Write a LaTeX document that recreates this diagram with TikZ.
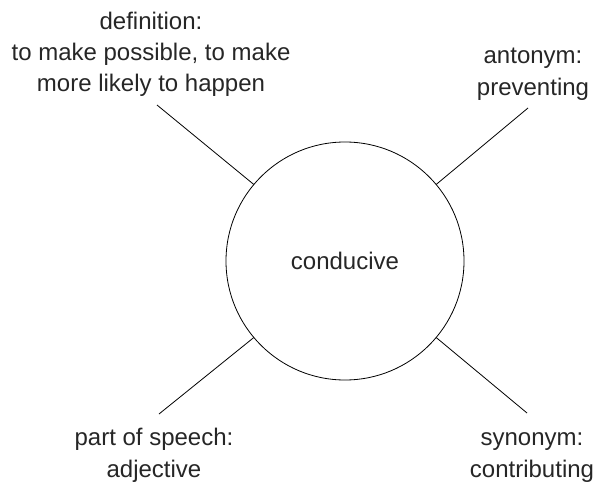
\documentclass[tikz,border=0pt]{standalone}
\usepackage{fontspec}
\setmainfont{Liberation Sans}
\begin{document}
\begin{tikzpicture}[font=\fontsize{18pt}{23.6pt}\selectfont, text=black!85,
  label/.style={align=center, anchor=base, inner sep=0pt},
  spoke/.style={line width=0.6pt}]

\newcommand\U{0.75pt};

\useasboundingbox (0,0) rectangle (600*\U,-485*\U); %% frame

\node[draw, circle, minimum size=238*\U, inner sep=0pt, outer sep=0pt, line width=0.6pt]
(word) at (345*\U,-261*\U) {conducive};

%% base anchor sits on the last line
\node[label] (defn) at (151*\U,-92*\U)
{definition:\\ to make possible, to make\\ more likely to happen};
\node[label] (anto) at (533*\U,-95*\U) {antonym:\\ preventing};
\node[label] (pos) at (154*\U,-477*\U) {part of speech:\\ adjective};
\node[label] (syno) at (532*\U,-477*\U) {synonym:\\ contributing};

\coordinate (defn-end) at (157*\U,-105*\U);
\coordinate (anto-end) at (528*\U,-108*\U);
\coordinate (pos-end) at (159*\U,-414*\U);
\coordinate (syno-end) at (527*\U,-413*\U);

\draw[spoke] (word.140)--(defn-end);
\draw[spoke] (word.40)--(anto-end);
\draw[spoke] (word.220)--(pos-end);
\draw[spoke] (word.320)--(syno-end);

\end{tikzpicture}
\end{document}
